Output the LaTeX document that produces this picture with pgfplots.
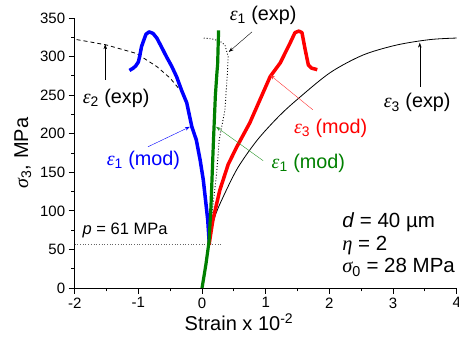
\documentclass[border=0pt]{standalone}
\usepackage{fontspec}
\setmainfont{Liberation Sans}
\newfontfamily\grk{Liberation Serif}
\usepackage{pgfplots}
\pgfplotsset{compat=1.18}
\usetikzlibrary{arrows.meta}
\newcommand{\anno}{\fontsize{19.8}{22}\selectfont}
\newcommand{\annob}{\fontsize{20.5}{23}\selectfont}
\newcommand{\eps}{{\grk\itshape ε}}
\newcommand{\gsig}{{\grk\itshape σ}}
\newcommand{\geta}{{\grk\itshape η}}
\definecolor{mgreen}{RGB}{0,128,0}
\definecolor{lgreen}{RGB}{40,150,40}
\begin{document}
\begin{tikzpicture}
\begin{axis}[
 scale only axis, width=382pt, height=270pt,
 xmin=-2, xmax=4, ymin=0, ymax=350,
 axis x line*=bottom, axis y line*=left,
 xtick={-2,-1,0,1,2,3,4}, ytick={0,50,100,150,200,250,300,350},
 minor x tick num=1, minor y tick num=1,
 tick align=outside,
 major tick length=6pt, minor tick length=3.5pt,
 tick style={black, line width=0.8pt},
 axis line style={line width=0.8pt},
 /pgf/number format/assume math mode=true,
 ticklabel style={font=\fontsize{15}{17}\selectfont},
 xlabel={Strain x 10\textsuperscript{-2}},
 ylabel={\gsig\textsubscript{3}, MPa},
 label style={font=\fontsize{20}{22}\selectfont},
 xlabel style={at={(rel axis cs:0.43,0)}, anchor=north, yshift=-22pt},
 ylabel style={yshift=2pt},
 clip=false,
]
% horizontal hydrostatic line
\addplot[gray!80!black, dotted, line width=0.7pt] coordinates {(-2,56) (0.31,56)};
% eps2 exp (dashed)
\addplot[black, line width=0.8pt, dash pattern=on 4pt off 3pt] coordinates {
(-1.97,322) (-1.76,319) (-1.5,315) (-1.03,304) (-0.71,287) (-0.5,272) (-0.32,254) (-0.24,240)
(-0.16,209) (-0.09,192) (-0.03,166) (0.02,140) (0.09,88) (0.115,56)};
% eps1 exp (dotted)
\addplot[black, line width=0.9pt, dotted] coordinates {
(0.11,56) (0.15,92) (0.23,149) (0.27,192) (0.36,231) (0.40,280) (0.41,300) (0.36,315) (0.28,320) (0.15,323) (0.02,324)};
% eps3 exp (solid)
\addplot[black, line width=0.8pt, smooth] coordinates {
(0.11,56) (0.2,92) (0.36,123) (0.57,157) (0.87,192) (1.2,222) (1.49,244) (2.01,279) (2.53,302) (3.06,315) (3.58,322) (4.0,324)};
% eps1 mod (blue)
\addplot[blue, line width=3.5pt, line join=round] coordinates {
(0.115,56) (0.09,88) (0.02,140) (-0.03,166) (-0.09,192) (-0.16,209) (-0.24,240) (-0.32,256) (-0.40,274)
(-0.48,288) (-0.56,300) (-0.64,313) (-0.71,324) (-0.77,330) (-0.83,332) (-0.88,329) (-0.92,320) (-0.95,313)
(-0.98,300) (-1.0,293) (-1.04,288) (-1.08,285) (-1.14,282)};
% eps3 mod (red)
\addplot[red, line width=3.5pt, line join=round] coordinates {
(0.11,56) (0.17,88) (0.28,127) (0.41,160) (0.54,182) (0.75,214) (0.91,244) (1.07,274) (1.23,292) (1.38,317)
(1.46,331) (1.52,333) (1.57,331) (1.62,309) (1.67,289) (1.72,285) (1.81,283)};
% eps1 mod (green)
\addplot[mgreen, line width=3.2pt, line join=round] coordinates {
(0,0) (0.06,30) (0.11,60) (0.14,105) (0.18,192) (0.21,250) (0.235,280) (0.245,290) (0.26,334)};

% annotations
\node[font=\anno] at (axis cs:0.96,354) {\eps\textsubscript{1} (exp)};
\draw[-{Stealth[length=5pt,width=3.5pt]}, black, line width=0.4pt] (axis cs:0.785,332) -- (axis cs:0.42,306);
\node[font=\anno] at (axis cs:-1.35,246) {\eps\textsubscript{2} (exp)};
\draw[-{Stealth[length=5pt,width=3.5pt]}, black, line width=0.4pt] (axis cs:-1.52,270) -- (axis cs:-1.52,316);
\node[font=\anno, text=blue] at (axis cs:-0.92,166) {\eps\textsubscript{1} (mod)};
\draw[-{Stealth[length=5pt,width=3.5pt]}, blue, line width=0.4pt] (axis cs:-0.85,183) -- (axis cs:-0.19,209);
\node[font=\anno, text=mgreen] at (axis cs:1.67,162) {\eps\textsubscript{1} (mod)};
\draw[-{Stealth[length=5pt,width=3.5pt]}, lgreen, line width=0.4pt] (axis cs:0.96,165) -- (axis cs:0.22,209);
\node[font=\anno, text=red] at (axis cs:2.02,207) {\eps\textsubscript{3} (mod)};
\draw[-{Stealth[length=5pt,width=3.5pt]}, red!80, line width=0.4pt] (axis cs:1.74,231) -- (axis cs:1.07,276);
\node[font=\anno] at (axis cs:3.38,240) {\eps\textsubscript{3} (exp)};
\draw[-{Stealth[length=5pt,width=3.5pt]}, black, line width=0.4pt] (axis cs:3.42,261) -- (axis cs:3.42,318);
\node[font=\fontsize{16.5}{19}\selectfont, anchor=west] at (axis cs:-1.93,74) {\textit{p} = 61 MPa};
\node[font=\annob, anchor=base west, inner sep=0pt] at (axis cs:2.2,79) {\textit{d} = 40 µm};
\node[font=\annob, anchor=base west, inner sep=0pt] at (axis cs:2.2,49) {\geta{} = 2};
\node[font=\annob, anchor=base west, inner sep=0pt] at (axis cs:2.2,19.5) {\gsig\textsubscript{0} = 28 MPa};
\coordinate (bbbl) at (axis cs:-3.173,-64.8);
\coordinate (bbtr) at (axis cs:4.036,373.3);
\end{axis}
\pgfresetboundingbox
\path[use as bounding box] (bbbl) rectangle (bbtr);
\end{tikzpicture}
\end{document}
